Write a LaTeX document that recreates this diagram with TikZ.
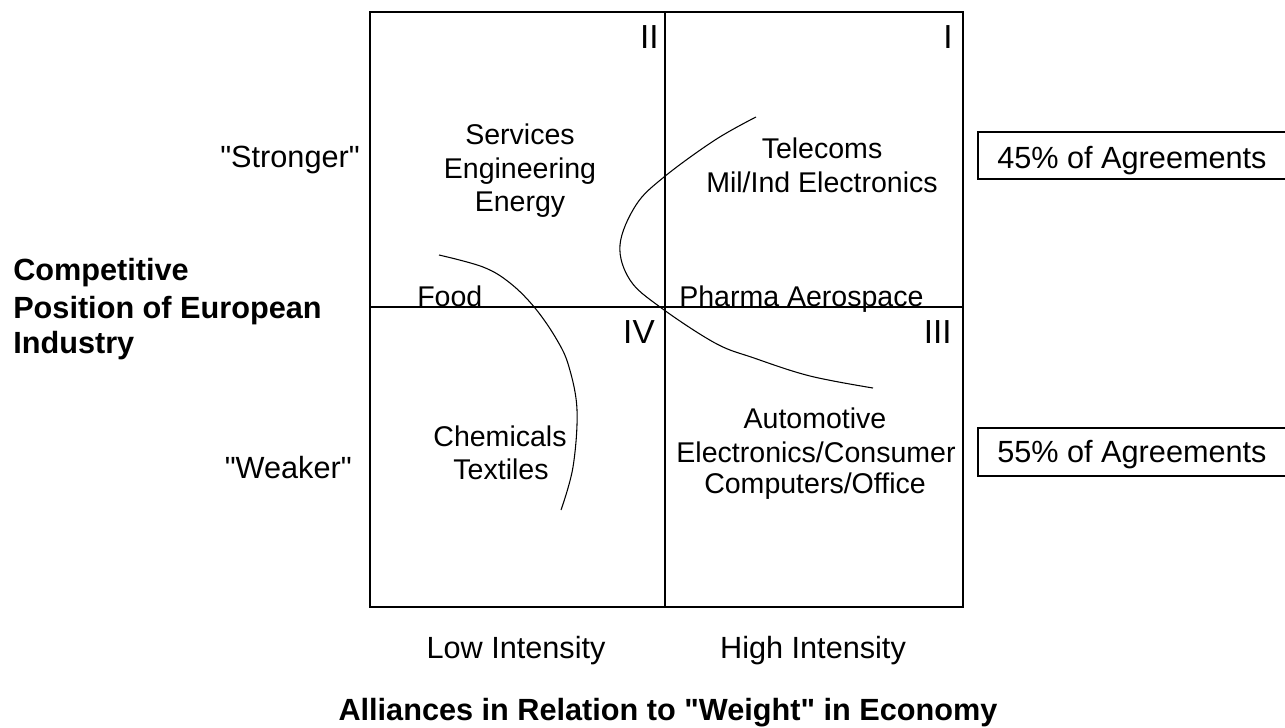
\documentclass[tikz,border=0pt]{standalone}
\usepackage{fontspec}
\setmainfont{Liberation Sans}[Ligatures=TeXOff]
\begin{document}
\begin{tikzpicture}[x=0.75pt,y=-0.75pt,
  inner/.style={font=\fontsize{21.4}{24}\selectfont, inner sep=0pt, anchor=base},
  outer/.style={font=\fontsize{23}{26}\selectfont, inner sep=0pt, anchor=base},
  bolder/.style={font=\fontsize{23}{26}\selectfont\bfseries, inner sep=0pt, anchor=base west},
  numeral/.style={font=\fontsize{25}{28}\selectfont, inner sep=0pt, anchor=base east},
  frame/.style={line width=1.1pt},
  divider/.style={line width=0.8pt},
  curve/.style={line width=0.8pt},
  agree/.style={line width=1.5pt}]
\useasboundingbox (0,0) rectangle (1285,728);
\fill[white] (0,0) rectangle (1285,728);
% main box
\coordinate (tl) at (370,12);
\coordinate (br) at (963,607);
\coordinate (tm) at (665,12);
\coordinate (bm) at (665,607);
\coordinate (ml) at (370,307);
\coordinate (mr) at (963,307);
\draw[frame] (tl) rectangle (br);
\draw[divider] (tm) -- (bm);
\draw[divider] (ml) -- (mr);
% numerals
\node[numeral] (qII) at (659,48) {II};
\node[numeral] (qI) at (953,48) {I};
\node[numeral] (qIV) at (655,343) {IV};
\node[numeral] (qIII) at (952,343) {III};
% curves
\draw[curve] plot[smooth, tension=0.6] coordinates {(439,255) (483,267) (510,283) (535,308) (557,340) (569,367) (577,410) (573,467) (561,510)};
\draw[curve] plot[smooth, tension=0.6] coordinates {(756,117) (715,140) (664,177) (636,205) (620,245) (630,280) (660,307) (715,343) (754,358) (810,376) (873,388)};
% quadrant labels
\node[inner] (serv) at (520,144) {Services};
\node[inner] (eng) at (520,178) {Engineering};
\node[inner] (ener) at (520,211) {Energy};
\node[inner] (tele) at (822,158) {Telecoms};
\node[inner] (mil) at (822,192) {Mil/Ind Electronics};
\node[inner, anchor=base west] (food) at (417,306) {Food};
\node[inner, anchor=base west] (pharma) at (679,306) {Pharma Aerospace};
\node[inner] (chem) at (500,446) {Chemicals};
\node[inner] (text) at (501,479) {Textiles};
\node[inner] (auto) at (815,428) {Automotive};
\node[inner] (elec) at (816,462) {Electronics/Consumer};
\node[inner] (comp) at (815,493) {Computers/Office};
% side labels
\node[outer, anchor=base east] (strong) at (360,167) {"Stronger"};
\node[outer, anchor=base east] (weak) at (352,478) {"Weaker"};
\node[bolder] (cp1) at (13,280) {Competitive};
\node[bolder] (cp2) at (13,318) {Position of European};
\node[bolder] (cp3) at (13,353) {Industry};
% agreement boxes
\draw[agree] (1290,132) -- (978,132) -- (978,179) -- (1290,179);
\node[outer, anchor=base west] (a45) at (997,168) {45\% of Agreements};
\draw[agree] (1290,428) -- (978,428) -- (978,476) -- (1290,476);
\node[outer, anchor=base west] (a55) at (997,462) {55\% of Agreements};
% axis labels
\node[outer] (low) at (516,658) {Low Intensity};
\node[outer] (high) at (813,658) {High Intensity};
\node[bolder, anchor=base] (title) at (668,720) {Alliances in Relation to "Weight" in Economy};
\end{tikzpicture}
\end{document}
